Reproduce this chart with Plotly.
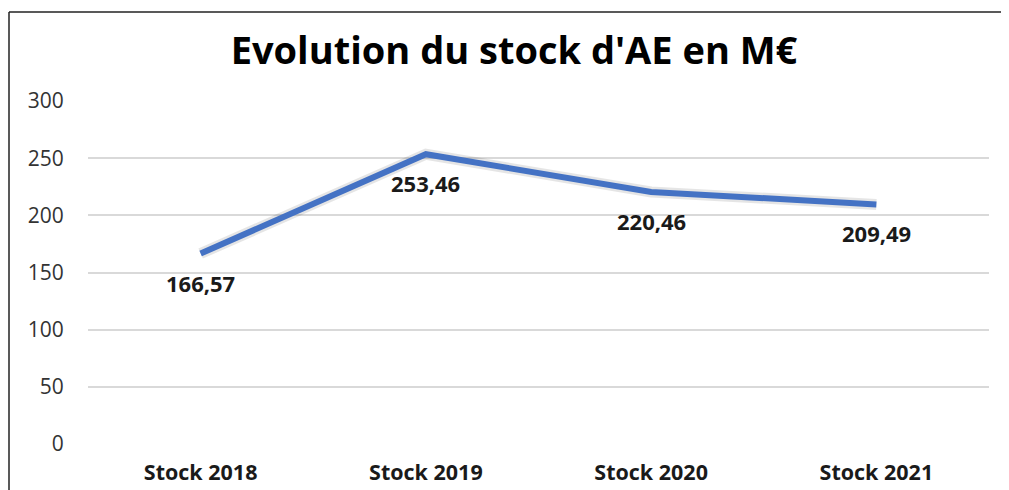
import plotly.graph_objects as go

categories = ["Stock 2018", "Stock 2019", "Stock 2020", "Stock 2021"]
values = [166.57, 253.46, 220.46, 209.49]
y_ticks = [0, 50, 100, 150, 200, 250, 300]
title_text = "Evolution du stock d'AE en M€"

labels = [f"{v:.2f}".replace(".", ",") for v in values]

# the page body adds an ~8px offset; layout is specified in figure coordinates
W, H = 1009, 490
ml, mr, mt, mb = 80, 28, 93, 54
pw, ph = W - ml - mr, H - mt - mb

fig = go.Figure()
# soft shadow
fig.add_trace(go.Scatter(x=categories, y=values, mode="lines",
                         line=dict(color="rgba(0,0,0,0.10)", width=11),
                         hoverinfo="skip", showlegend=False))
fig.add_trace(go.Scatter(x=categories, y=values, mode="lines",
                         line=dict(color="#4472C4", width=6),
                         showlegend=False))

for c, v, t in zip(categories, values, labels):
    fig.add_annotation(x=c, y=v, text=t, showarrow=False, yshift=-29,
                       font=dict(family="Open Sans", size=22, color="#1a1a1a", weight="bold"))

# frame (left and top edges)
fx = -(ml - 1) / pw
fy = 1 + (mt - 4) / ph
fig.add_shape(type="line", xref="paper", yref="paper", x0=fx, x1=fx, y0=-2, y1=fy,
              line=dict(color="#222222", width=1.5))
fig.add_shape(type="line", xref="paper", yref="paper", x0=fx, x1=2, y0=fy, y1=fy,
              line=dict(color="#222222", width=1.5))

fig.update_layout(
    width=W, height=H,
    margin=dict(l=ml, r=mr, t=mt, b=mb),
    paper_bgcolor="white", plot_bgcolor="white",
    title=dict(text=title_text, xref="container", x=506 / W, xanchor="center",
               y=1 - 43 / H, yanchor="middle",
               font=dict(family="Open Sans", size=38, color="#000000", weight="bold")),
    xaxis=dict(type="category", range=[-0.5, 3.5], showgrid=False, zeroline=False, showline=False,
               ticks="outside", ticklen=9, tickcolor="rgba(0,0,0,0)",
               tickfont=dict(family="Open Sans", size=21.5, color="#1a1a1a", weight="bold")),
    yaxis=dict(range=[0, 300], tickvals=y_ticks, showgrid=True, gridcolor="#D9D9D9", gridwidth=1.5,
               zeroline=False, showline=False,
               ticks="outside", ticklen=19, tickcolor="rgba(0,0,0,0)",
               tickfont=dict(family="Open Sans", size=21, color="#333333")),
    font=dict(family="Open Sans"),
)

fig.write_html("out.html")
